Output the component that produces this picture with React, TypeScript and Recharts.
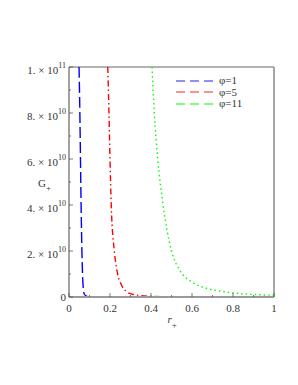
import React from "react";
import { LineChart, Line, XAxis, YAxis, ReferenceLine } from "recharts";

// r+ values and G+ values
const blueR = [0.049, 0.053, 0.056, 0.059, 0.063, 0.066, 0.07, 0.075, 0.085, 0.1, 0.2, 0.4, 0.6, 0.8, 1.0];
const blueG = [1e11, 8e10, 6e10, 4e10, 2e10, 1e10, 3.5e9, 1.2e9, 4e8, 1.5e8, 3e7, 1e7, 5e6, 3e6, 2e6];

const redR = [0.189, 0.195, 0.2, 0.206, 0.221, 0.235, 0.257, 0.28, 0.31, 0.35, 0.4, 0.5, 0.7, 1.0];
const redG = [1e11, 8e10, 6e10, 4e10, 2e10, 1.1e10, 5e9, 2.4e9, 1.2e9, 6e8, 3e8, 1e8, 3e7, 1e7];

const greenR = [0.405, 0.416, 0.433, 0.459, 0.5, 0.54, 0.6, 0.67, 0.75, 0.82, 0.9, 0.98, 1.0];
const greenG = [1e11, 8e10, 6e10, 4e10, 2e10, 1.17e10, 6.5e9, 3.8e9, 2.4e9, 1.6e9, 1.1e9, 0.8e9, 0.75e9];

const seriesNames = ["φ=1", "φ=5", "φ=11"];

const xMajorTicks = [0, 0.2, 0.4, 0.6, 0.8, 1];
const xTickLabels = ["0", "0.2", "0.4", "0.6", "0.8", "1"];
const xMinorTicks = [0.1, 0.3, 0.5, 0.7, 0.9];

const yMajorTicks = [0, 2e10, 4e10, 6e10, 8e10, 1e11];
const yTickMantissa = ["0", "2. × 10", "4. × 10", "6. × 10", "8. × 10", "1. × 10"];
const yTickExponent = ["", "10", "10", "10", "10", "11"];
const yMinorTicks = [1e10, 3e10, 5e10, 7e10, 9e10];

const toPoints = (rs: number[], gs: number[]) => rs.map((r, i) => ({ r, g: gs[i] }));
const blueData = toPoints(blueR, blueG);
const redData = toPoints(redR, redG);
const greenData = toPoints(greenR, greenG);

const FONT = "Liberation Serif, DejaVu Serif, serif";

const XTick = (props: any) => {
  const { x, y, payload } = props;
  const idx = xMajorTicks.findIndex((t) => Math.abs(t - payload.value) < 1e-9);
  const major = idx >= 0;
  return (
    <g>
      <line x1={x} x2={x} y1={y} y2={y - (major ? 4 : 2)} stroke="#555" strokeWidth={0.8} />
      {major && (
        <text x={x} y={y + 15} textAnchor="middle" style={{ fontFamily: FONT }} fontSize={11} fill="#333">
          {xTickLabels[idx]}
        </text>
      )}
    </g>
  );
};

const YTick = (props: any) => {
  const { x, y, payload } = props;
  const idx = yMajorTicks.findIndex((t) => Math.abs(t - payload.value) < 1);
  const major = idx >= 0;
  return (
    <g>
      <line x1={x} x2={x + (major ? 4 : 2)} y1={y} y2={y} stroke="#555" strokeWidth={0.8} />
      {major && (
        <text x={x - 3} y={y + (idx === 0 ? 4 : 7)} textAnchor="end" style={{ fontFamily: FONT }} fontSize={11} fill="#333">
          {yTickMantissa[idx]}
          {yTickExponent[idx] && (
            <tspan dy={-6} fontSize={8}>
              {yTickExponent[idx]}
            </tspan>
          )}
        </text>
      )}
    </g>
  );
};

const legendColors = ["#6a6aff", "#ff6a6a", "#4cff4c"];

const LegendBox = () => (
  <div style={{ position: "absolute", left: 174, top: 75, fontFamily: FONT, fontSize: 11, color: "#333" }}>
    {seriesNames.map((n, i) => (
      <div key={n} style={{ display: "flex", alignItems: "center", height: 11.5 }}>
        <svg width={42} height={10} style={{ display: "block" }}>
          <line x1={2} x2={39} y1={5} y2={5} stroke={legendColors[i]} strokeWidth={1.3} strokeDasharray="9 5" />
        </svg>
        <span style={{ marginLeft: 3, lineHeight: "11px" }}>{n}</span>
      </div>
    ))}
  </div>
);

export default function App() {
  return (
    <div style={{ position: "absolute", left: 0, top: 0, width: 298, height: 385, background: "#fff" }}>
      <LineChart width={298} height={385} margin={{ top: 67, right: 24, bottom: 58, left: 9 }}>
        <XAxis
          dataKey="r"
          type="number"
          domain={[0, 1]}
          ticks={[...xMajorTicks, ...xMinorTicks]}
          interval={0}
          tickSize={0}
          tickMargin={0}
          tickLine={false}
          tick={<XTick />}
          height={30}
          axisLine={{ stroke: "#999", strokeWidth: 2.2 }}
          allowDataOverflow
          label={{
            content: (p: any) => {
              const vb = p.viewBox;
              const cx = vb.x + vb.width / 2;
              return (
                <text x={cx - 4} y={vb.y + 26} style={{ fontFamily: FONT }} fontSize={11} fontStyle="italic" fill="#333">
                  r
                  <tspan dy={5} fontSize={9} fontStyle="normal">+</tspan>
                </text>
              );
            },
          }}
        />
        <YAxis
          type="number"
          domain={[0, 1e11]}
          ticks={[...yMajorTicks, ...yMinorTicks]}
          interval={0}
          tickSize={0}
          tickMargin={0}
          tickLine={false}
          tick={<YTick />}
          width={60}
          axisLine={{ stroke: "#444", strokeWidth: 1 }}
          allowDataOverflow
          label={{
            content: (p: any) => {
              const vb = p.viewBox;
              return (
                <text x={vb.x + 29} y={vb.y + 120} style={{ fontFamily: FONT }} fontSize={11} fill="#333">
                  G
                  <tspan dy={4} fontSize={9}>+</tspan>
                </text>
              );
            },
          }}
        />
        <ReferenceLine y={1e11} stroke="#666" strokeWidth={1} />
        <ReferenceLine x={1} stroke="#888" strokeWidth={1.5} />
        <Line
          data={blueData}
          dataKey="g"
          type="monotone"
          stroke="#0000ff"
          strokeWidth={1.4}
          strokeDasharray="11 4"
          dot={false}
          isAnimationActive={false}
          name={seriesNames[0]}
        />
        <Line
          data={redData}
          dataKey="g"
          type="monotone"
          stroke="#ff0000"
          strokeWidth={1.4}
          strokeDasharray="6 3 1.5 3"
          dot={false}
          isAnimationActive={false}
          name={seriesNames[1]}
        />
        <Line
          data={greenData}
          dataKey="g"
          type="monotone"
          stroke="#00ff00"
          strokeWidth={1.4}
          strokeDasharray="1.5 3"
          dot={false}
          isAnimationActive={false}
          name={seriesNames[2]}
        />
      </LineChart>
      <LegendBox />
    </div>
  );
}
